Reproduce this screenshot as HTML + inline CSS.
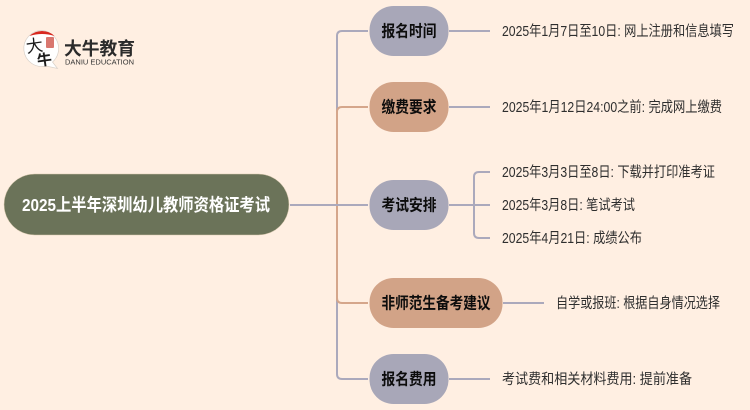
<!DOCTYPE html>
<html lang="zh">
<head>
<meta charset="utf-8">
<style>
html,body{margin:0;padding:0;width:750px;height:410px;overflow:hidden;background:#FFEFE2;}
svg{display:block;}
text{font-family:"Liberation Sans","Noto Sans CJK SC",sans-serif;}
.n{font-size:16px;font-weight:700;fill:#0c0c0c;}
.t{font-size:14.500px;fill:#2e2e2e;}
</style>
</head>
<body>
<svg width="750" height="410" viewBox="0 0 750 410" xmlns="http://www.w3.org/2000/svg">
<rect width="750" height="410" fill="#FFEFE2"/>
<!-- connectors -->
<g fill="none" stroke-width="2">
<path d="M337 205V36q0-5 5-5h26" stroke="#ABA9BC"/>
<path d="M337 205V374q0 5 5 5h26" stroke="#ABA9BC"/>
<path d="M337 205V112q0-5 5-5h26" stroke="#D5A68B"/>
<path d="M337 205V298q0 5 5 5h26" stroke="#D5A68B"/>
<path d="M290 205H368" stroke="#ABA9BC"/>
<path d="M449 31H490M449 107H490M449 205H490M449 379H490M503 303H544" stroke="#ABA9BC"/>
<path d="M490 172H479q-5 0-5 5V233q0 5 5 5H490" stroke="#ABA9BC"/>
</g>
<!-- root -->
<rect x="4" y="174" width="285" height="61" rx="30.500" fill="#6B7359" stroke="#D9C9AE" stroke-width="0.5"/>
<text x="22" y="211" font-size="17.500" font-weight="700" fill="#fff" textLength="248" lengthAdjust="spacingAndGlyphs">2025上半年深圳幼儿教师资格证考试</text>
<!-- nodes -->
<rect x="369.500" y="6" width="79" height="50" rx="24" fill="#A8A7B8"/>
<rect x="369.500" y="82" width="79" height="50" rx="24" fill="#D2A387"/>
<rect x="369.500" y="180" width="79" height="50" rx="24" fill="#A8A7B8"/>
<rect x="369.500" y="278" width="133" height="50" rx="24" fill="#D2A387"/>
<rect x="369.500" y="354" width="79" height="50" rx="24" fill="#A8A7B8"/>
<text class="n" x="381.500" y="36.500" textLength="55" lengthAdjust="spacingAndGlyphs">报名时间</text>
<text class="n" x="381.500" y="112.500" textLength="55" lengthAdjust="spacingAndGlyphs">缴费要求</text>
<text class="n" x="381.500" y="210.500" textLength="55" lengthAdjust="spacingAndGlyphs">考试安排</text>
<text class="n" x="381.500" y="308.500" textLength="109" lengthAdjust="spacingAndGlyphs">非师范生备考建议</text>
<text class="n" x="381.500" y="384.500" textLength="55" lengthAdjust="spacingAndGlyphs">报名费用</text>
<!-- leaf text -->
<text class="t" x="502" y="36" textLength="232" lengthAdjust="spacingAndGlyphs">2025年1月7日至10日: 网上注册和信息填写</text>
<text class="t" x="502" y="112" textLength="220" lengthAdjust="spacingAndGlyphs">2025年1月12日24:00之前: 完成网上缴费</text>
<text class="t" x="502" y="177" textLength="213" lengthAdjust="spacingAndGlyphs">2025年3月3日至8日: 下载并打印准考证</text>
<text class="t" x="502" y="210" textLength="133" lengthAdjust="spacingAndGlyphs">2025年3月8日: 笔试考试</text>
<text class="t" x="502" y="243" textLength="140" lengthAdjust="spacingAndGlyphs">2025年4月21日: 成绩公布</text>
<text class="t" x="556" y="308" textLength="164" lengthAdjust="spacingAndGlyphs">自学或报班: 根据自身情况选择</text>
<text class="t" x="502" y="384" textLength="190" lengthAdjust="spacingAndGlyphs">考试费和相关材料费用: 提前准备</text>
<!-- logo -->
<path d="M42 30.500a18 18 0 1 0 4 35.500l11.500 2.500-5-6.500a18 18 0 0 0-10.500-31.500z" fill="#fff" stroke="#d8d0c8" stroke-width="0.7"/>
<path d="M29.500 36a18 18 0 0 1 25 0q-12.500-4-25 0z" fill="#D8281F"/>
<rect x="46" y="37" width="8" height="11" rx="1" fill="#D9776F"/>
<text x="26" y="52" font-size="17" fill="#1c1c1c" transform="rotate(-8 33 46)">大</text>
<text x="37" y="65" font-size="15" font-weight="700" fill="#1c1c1c" transform="rotate(-8 45 60)">牛</text>
<text x="64" y="55" font-size="18" font-weight="700" fill="#2b2b2b" textLength="71" lengthAdjust="spacingAndGlyphs">大牛教育</text>
<text x="65" y="64.500" font-size="7.500" fill="#333" textLength="69" lengthAdjust="spacingAndGlyphs">DANIU EDUCATION</text>
</svg>
</body>
</html>
